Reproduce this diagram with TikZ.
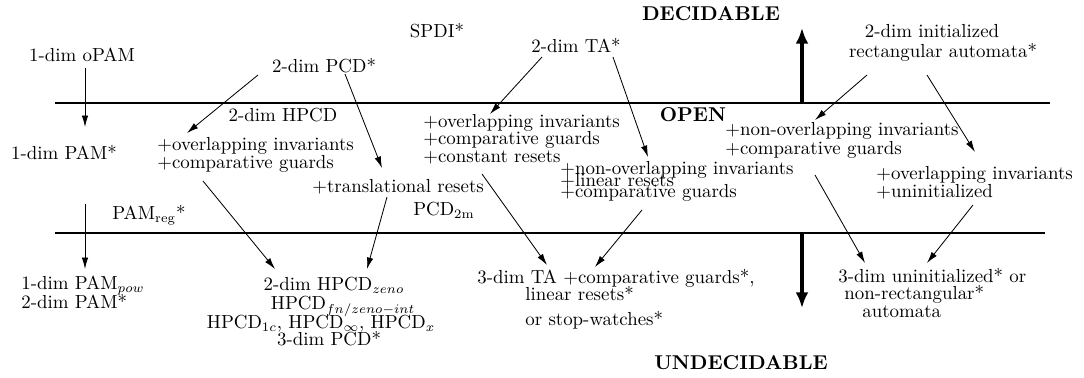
\documentclass[tikz,border=0pt]{standalone}
\usetikzlibrary{arrows.meta}
\begin{document}
\begin{tikzpicture}[x=0.54pt,y=-0.54pt,
  lbl/.style={inner sep=0pt, text height=1.5ex, text depth=0.25ex, font=\fontsize{10.2}{12}\selectfont},
  lw/.style={lbl, anchor=west},
  ttl/.style={inner sep=0pt, font=\fontsize{10.8}{13}\selectfont\bfseries},
  arr/.style={-{Latex[length=6.2pt,width=3.5pt]}, line width=0.45pt},
  bigarr/.style={-{Latex[length=8.5pt,width=7pt]}, line width=2.3pt},
  rulel/.style={line width=0.6pt}]
\useasboundingbox (0,0) rectangle (1084,377);

% region lines
\coordinate (ltop) at (55,103);
\coordinate (rtop) at (1050,103);
\coordinate (lbot) at (55,233);
\coordinate (rbot) at (1045,233);
\draw[rulel] (ltop) -- (rtop);
\draw[rulel] (lbot) -- (rbot);

% thick arrows
\coordinate (upS) at (802,103);
\coordinate (upE) at (802,28);
\coordinate (dnS) at (802,233);
\coordinate (dnE) at (802,308);
\draw[bigarr] (upS) -- (upE);
\draw[bigarr] (dnS) -- (dnE);

% titles
\node[ttl] (dec) at (711,14) {DECIDABLE};
\node[ttl] (open) at (693,115) {OPEN};
\node[ttl] (undec) at (741,363) {UNDECIDABLE};

% decidable
\node[lbl] (opam) at (82,57) {1-dim oPAM};
\node[lbl] (pcd) at (324,68) {2-dim PCD*};
\node[lbl] (spdi) at (437,33) {SPDI*};
\node[lbl] (ta) at (576,48) {2-dim TA*};
\node[lbl] (ira1) at (932,33) {2-dim initialized};
\node[lbl] (ira2) at (943,53) {rectangular automata*};

% open
\node[lbl] (hpcd) at (283,117) {2-dim HPCD};
\node[lbl] (pam1) at (64,155) {1-dim PAM*};
\node[lw] (a1) at (157,146) {+overlapping invariants};
\node[lw] (a2) at (157,164) {+comparative guards};
\node[lw] (trans) at (312,188) {+translational resets};
\node[lbl] (pcdm) at (444,211) {PCD$_{\mathrm{2m}}$};
\node[lbl] (pamreg) at (149,215) {PAM$_{\mathrm{reg}}$*};
\node[lw] (b1) at (423,123) {+overlapping invariants};
\node[lw] (b2) at (423,140) {+comparative guards};
\node[lw] (b3) at (423,158) {+constant resets};
\node[lw] (c1) at (560,170) {+non-overlapping invariants};
\node[lw] (c2) at (560,182) {+linear resets};
\node[lw] (c3) at (560,193) {+comparative guards};
\node[lw] (d1) at (725,131) {+non-overlapping invariants};
\node[lw] (d2) at (725,150) {+comparative guards};
\node[lw] (e1) at (876,175) {+overlapping invariants};
\node[lw] (e2) at (876,193) {+uninitialized};

% undecidable
\node[lw] (p1) at (21,285) {1-dim PAM$_{pow}$};
\node[lw] (p2) at (21,304) {2-dim PAM*};
\node[lbl] (h1) at (334,286) {2-dim HPCD$_{zeno}$};
\node[lbl] (h2) at (343,305) {HPCD$_{fn/zeno-int}$};
\node[lbl] (h3) at (321,324) {HPCD$_{1c}$, HPCD$_\infty$, HPCD$_x$};
\node[lbl] (h4) at (329,341) {3-dim PCD*};
\node[lw] (t1) at (477,279) {3-dim TA +comparative guards*,};
\node[lw] (t2) at (525,296) {linear resets*};
\node[lw] (t3) at (525,321) {or stop-watches*};
\node[lw] (u1) at (838,278) {3-dim uninitialized* or};
\node[lw] (u2) at (844,295) {non-rectangular*};
\node[lw] (u3) at (862,313) {automata};

% connectors
\draw[arr] ([shift={(3,11)}]opam.center) -- ([shift={(21,-28)}]pam1.center);
\draw[arr] ([shift={(-66,7)}]pcd.center) -- ([shift={(30,-13)}]a1.west);
\draw[arr] ([shift={(21,6)}]pcd.center) -- ([shift={(70,-20)}]trans.west);
\draw[arr] ([shift={(46,17)}]a2.west) -- ([shift={(-59,-17)}]h1.center);
\draw[arr] ([shift={(75,9)}]trans.west) -- ([shift={(33,-17)}]h1.center);
\draw[arr] ([shift={(21,49)}]pam1.center) -- ([shift={(64,-16)}]p1.west);
\draw[arr] ([shift={(-34,9)}]ta.center) -- ([shift={(67,-9)}]b1.west);
\draw[arr] ([shift={(37,9)}]ta.center) -- ([shift={(88,-13)}]c1.west);
\draw[arr] ([shift={(59,16)}]b3.west) -- ([shift={(70,-14)}]t1.west);
\draw[arr] ([shift={(82,17)}]c3.west) -- ([shift={(118,-12)}]t1.west);
\draw[arr] ([shift={(-76,22)}]ira2.center) -- ([shift={(90,-11)}]d1.west);
\draw[arr] ([shift={(-16,22)}]ira2.center) -- ([shift={(99,-23)}]e1.west);
\draw[arr] ([shift={(90,25)}]d2.west) -- ([shift={(27,-15)}]u1.west);
\draw[arr] ([shift={(97,12)}]e2.west) -- ([shift={(89,-15)}]u1.west);
\end{tikzpicture}
\end{document}
